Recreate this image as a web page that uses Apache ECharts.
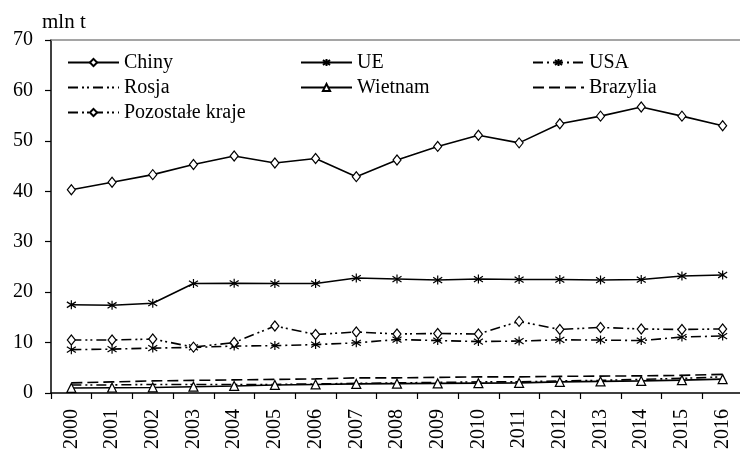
<!DOCTYPE html>
<html>
<head>
<meta charset="utf-8">
<script src="https://cdn.jsdelivr.net/npm/echarts@6/dist/echarts.min.js"></script>
<style>html,body{margin:0;padding:0;background:#fff}#c{width:740px;height:449px}</style>
</head>
<body>
<div id="c"></div>
<script>
const years = ['2000','2001','2002','2003','2004','2005','2006','2007','2008','2009','2010','2011','2012','2013','2014','2015','2016'];
const chiny = [40.3,41.8,43.3,45.3,47.0,45.6,46.5,42.9,46.2,48.9,51.1,49.6,53.4,54.9,56.7,54.9,53.0];
const ue = [17.5,17.4,17.8,21.7,21.75,21.7,21.7,22.8,22.6,22.4,22.6,22.5,22.5,22.4,22.5,23.2,23.4];
const usa = [8.6,8.7,8.9,9.05,9.3,9.4,9.6,9.95,10.6,10.4,10.2,10.3,10.55,10.5,10.4,11.1,11.3];
const rosja = [1.6,1.6,1.7,1.7,1.7,1.7,1.8,1.9,2.0,2.1,2.2,2.2,2.4,2.5,2.7,2.9,3.2];
const wietnam = [1.0,1.05,1.1,1.25,1.4,1.6,1.7,1.8,1.85,1.9,1.95,2.0,2.2,2.3,2.4,2.55,2.75];
const brazylia = [2.0,2.2,2.4,2.5,2.6,2.7,2.8,3.0,3.0,3.1,3.2,3.2,3.3,3.35,3.4,3.5,3.7];
const pozostale = [10.5,10.5,10.7,9.1,10.0,13.3,11.6,12.1,11.7,11.8,11.7,14.2,12.6,13.0,12.7,12.6,12.7];
const yTicks = [0,10,20,30,40,50,60,70];

const FONT = '"Liberation Serif", "Times New Roman", serif';
const star = 'path://M5,0L5,10M1.2,1.8L8.8,8.2M8.8,1.8L1.2,8.2';
const lw = 1.6;
function mk(name, data, dash, symbol, size, fill) {
  return {
    name: name, type: 'line', data: data, color: '#000',
    symbol: symbol || 'circle', symbolSize: size || 8, showSymbol: !!symbol,
    lineStyle: {color: '#000', width: lw, type: dash || 'solid'},
    itemStyle: {color: fill || '#000', borderColor: '#000', borderWidth: 1.2},
    emphasis: {disabled: true}, animation: false, z: 3
  };
}
const dashDotDot = [10,4,2,3,2,4];
const series = [
  mk('Chiny', chiny, 'solid', 'diamond', [8,10], '#fff'),
  mk('UE', ue, 'solid', star, 9, '#000'),
  mk('USA', usa, [10,4,2,4], star, 9, '#000'),
  mk('Rosja', rosja, dashDotDot),
  mk('Wietnam', wietnam, 'solid', 'triangle', [9,9], '#fff'),
  mk('Brazylia', brazylia, [11,5]),
  mk('Pozostałe kraje', pozostale, dashDotDot, 'diamond', [8,10], '#fff')
];
function item(n) {
  if (n === 'Rosja' || n === 'Brazylia') return {name: n, itemStyle: {opacity: 0}};
  return {name: n};
}
function leg(left, names) {
  return {
    left: left, top: 50, orient: 'vertical', data: names.map(item),
    itemWidth: 51, itemHeight: 9, itemGap: 0,
    textStyle: {fontFamily: FONT, fontSize: 20, color: '#000', lineHeight: 25, padding: [0,0,0,0]},
    selectedMode: false, padding: 0
  };
}
const chart = echarts.init(document.getElementById('c'));
chart.setOption({
  animation: false,
  title: {text: 'mln t', left: 37, top: 7, textStyle: {fontFamily: FONT, fontSize: 21, fontWeight: 'normal', color: '#000'}},
  legend: [
    leg(67, ['Chiny','Rosja','Pozostałe kraje']),
    leg(300, ['UE','Wietnam']),
    leg(532, ['USA','Brazylia'])
  ],
  grid: {left: 51, right: -3, top: 40, bottom: 56, containLabel: false, outerBoundsMode: 'none'},
  xAxis: [{
    type: 'category', data: years, boundaryGap: true,
    axisLine: {show: true, lineStyle: {color: '#000', width: 1.5}},
    axisTick: {show: true, length: 6, lineStyle: {color: '#000', width: 1.2}},
    axisLabel: {rotate: 90, margin: 16, fontFamily: FONT, fontSize: 20, color: '#000', interval: 0},
    splitLine: {show: false}
  }, {
    type: 'category', data: years, position: 'top',
    axisLine: {show: true, lineStyle: {color: '#888', width: 1.5}},
    axisTick: {show: false}, axisLabel: {show: false}, splitLine: {show: false}
  }],
  yAxis: {
    type: 'value', min: 0, max: 70, interval: 10,
    axisLine: {show: true, lineStyle: {color: '#000', width: 1.5}},
    axisTick: {show: true, length: 6, lineStyle: {color: '#000', width: 1.2}},
    axisLabel: {margin: 18, fontFamily: FONT, fontSize: 20, color: '#000',
      formatter: function(v){ return yTicks.indexOf(v) >= 0 ? String(v) : ''; }},
    splitLine: {show: false}
  },
  series: series
});
</script>
</body>
</html>
